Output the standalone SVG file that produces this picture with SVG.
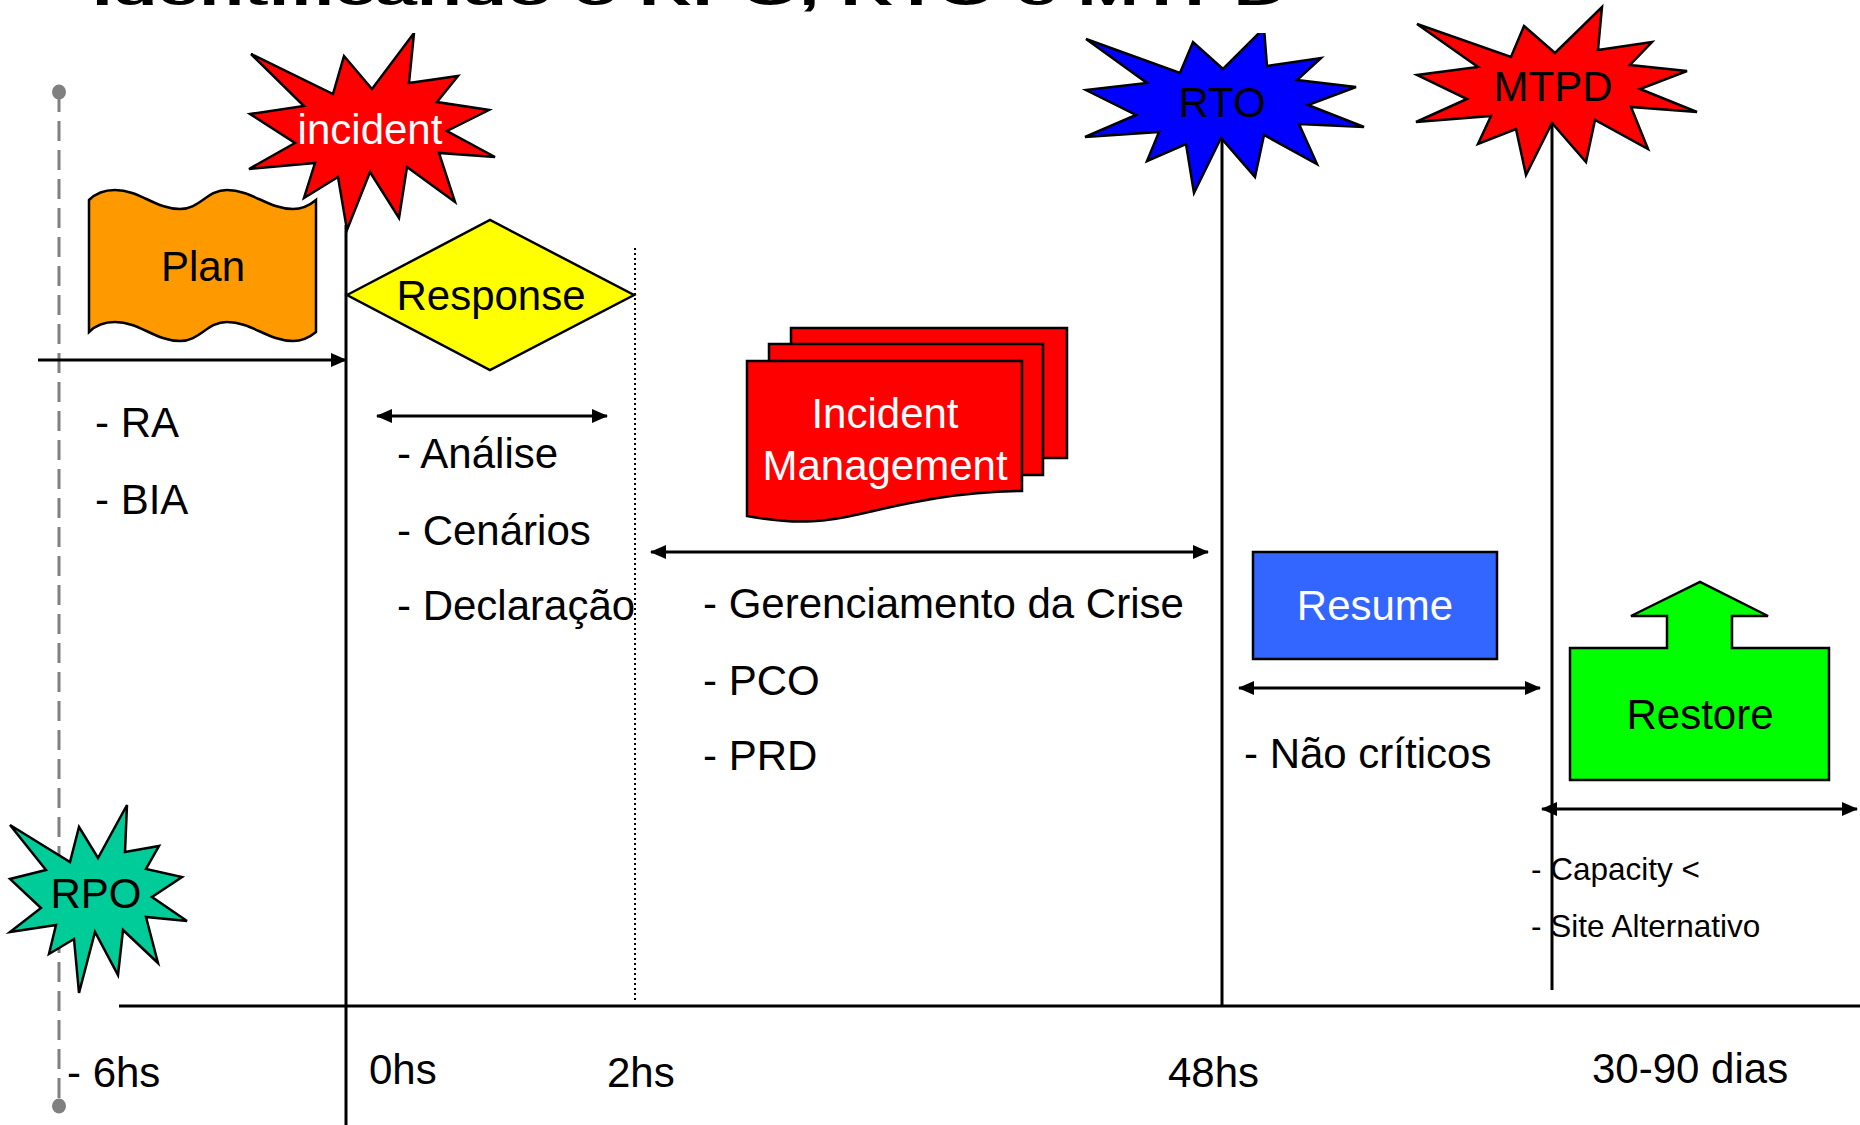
<svg xmlns="http://www.w3.org/2000/svg" width="1860" height="1125" viewBox="0 0 1860 1125">
<style>
.t{font-family:"Liberation Sans",Arial,sans-serif;font-size:42px;fill:#000}
.w{fill:#fff}
.c{text-anchor:middle}
.sm{font-size:31.5px}
.s{stroke:#000;stroke-width:2.5;stroke-linejoin:miter}
.ln{stroke:#000;stroke-width:3;fill:none}
.arr{stroke:#000;stroke-width:3;fill:none;marker-start:url(#ah);marker-end:url(#ah)}
</style>
<defs>
<marker id="ah" markerUnits="userSpaceOnUse" markerWidth="16" markerHeight="14" refX="15" refY="7" orient="auto-start-reverse" viewBox="0 0 16 14"><path d="M0,0 L16,7 L0,14 z" fill="#000"/></marker>
</defs>
<rect width="1860" height="1125" fill="#fff"/>

<g id="connectors">
<line x1="59" y1="92" x2="59" y2="1106" stroke="#808080" stroke-width="3" stroke-dasharray="20 9"/>
<ellipse cx="59" cy="92" rx="7" ry="7.5" fill="#808080"/>
<ellipse cx="59" cy="1106" rx="7" ry="7.5" fill="#808080"/>
<line class="ln" x1="346" y1="225" x2="346" y2="1125"/>
<line class="ln" x1="1222" y1="140" x2="1222" y2="1006"/>
<line class="ln" x1="1552" y1="123" x2="1552" y2="990"/>
<line class="ln" x1="119" y1="1006" x2="1860" y2="1006"/>
<line x1="635" y1="248" x2="635" y2="1000" stroke="#000" stroke-width="2" stroke-dasharray="2 3"/>
<line x1="38" y1="360" x2="346" y2="360" stroke="#000" stroke-width="3" marker-end="url(#ah)"/>
<line class="arr" x1="377" y1="416" x2="607" y2="416"/>
<line class="arr" x1="651" y1="552" x2="1208" y2="552"/>
<line class="arr" x1="1239" y1="688" x2="1540" y2="688"/>
<line class="arr" x1="1542" y1="809" x2="1857" y2="809"/>
</g>

<g id="incident">
<polygon class="s" fill="#ff0000" points="251,54 333,94 344,56 372,89 414,33 409,83 458,76 437,102 489,110 447,131 495,157 439,153 455,202 407,167 399,218 370,172 347,230 338,177 304,198 315,163 249,169 295,143 250,114 304,106"/>
<text class="t w c" x="370" y="144">incident</text>
</g>

<g id="plan">
<path class="s" fill="#ff9900" d="M89,200 C96,193 104,190 115,190 C140,190 155,209 180,209 C200,209 207,190 227,190 C252,190 268,209 293,209 C303,209 310,205 316,200 L316,332 C310,337 303,341 293,341 C268,341 252,322 227,322 C207,322 200,341 180,341 C155,341 140,322 115,322 C104,322 96,325 89,332 Z"/>
<text class="t c" x="203" y="281">Plan</text>
</g>

<g id="response">
<polygon class="s" fill="#ffff00" points="347,295 490,220 634,295 490,370"/>
<text class="t c" x="491" y="310">Response</text>
</g>

<g id="incident-management">
<rect class="s" fill="#ff0000" x="791" y="328" width="276" height="130"/>
<rect class="s" fill="#ff0000" x="769" y="344" width="274" height="131"/>
<path class="s" fill="#ff0000" d="M747,361 H1022 V491 C950,492 900,505 860,514 C830,521 800,526 747,516 Z"/>
<text class="t w c" x="885" y="428">Incident</text>
<text class="t w c" x="885" y="480">Management</text>
</g>

<g id="rto">
<polygon class="s" fill="#0000ff" points="1086,39 1180,73 1193,42 1223,69 1264,28 1267,66 1321,58 1297,80 1356,87 1308,105 1364,127 1299,124 1317,164 1264,135 1255,177 1221,138 1194,193 1186,144 1147,161 1159,132 1085,137 1136,115 1086,90 1147,83"/>
<text class="t c" x="1222" y="117">RTO</text>
</g>

<g id="rpo">
<polygon class="s" fill="#00cc99" points="10,825 70,862 79,827 98,858 127,805 125,852 159,846 146,869 182,877 152,897 187,921 146,917 158,963 123,930 118,975 95,932 79,993 74,939 49,954 56,925 10,932 41,908 10,879 46,870"/>
<text class="t c" x="96" y="908">RPO</text>
</g>

<rect x="200" y="0" width="1200" height="33" fill="#fff"/>
<text class="t" x="92" y="5" font-weight="bold" font-size="74" textLength="1195" lengthAdjust="spacingAndGlyphs">Identificando o RPO, RTO e MTPD</text>

<g id="mtpd">
<polygon class="s" fill="#ff0000" points="1417,24 1511,57 1524,26 1555,53 1602,7 1598,50 1652,42 1630,65 1687,71 1640,89 1697,112 1631,107 1648,149 1595,120 1586,162 1552,123 1526,175 1516,129 1478,144 1491,116 1416,122 1467,99 1417,75 1478,67"/>
<text class="t c" x="1553" y="101">MTPD</text>
</g>

<g id="resume">
<rect class="s" fill="#3366ff" x="1253" y="552" width="244" height="107"/>
<text class="t w c" x="1375" y="620">Resume</text>
</g>

<g id="restore">
<polygon class="s" fill="#00ff00" points="1570,648 1667,648 1667,616 1631,616 1700,582 1768,616 1732,616 1732,648 1829,648 1829,780 1570,780"/>
<text class="t c" x="1700" y="729">Restore</text>
</g>

<g id="labels">
<text class="t" x="95" y="437">- RA</text>
<text class="t" x="95" y="514">- BIA</text>
<text class="t" x="397" y="468">- Análise</text>
<text class="t" x="397" y="545">- Cenários</text>
<text class="t" x="397" y="620">- Declaração</text>
<text class="t" x="703" y="618">- Gerenciamento da Crise</text>
<text class="t" x="703" y="695">- PCO</text>
<text class="t" x="703" y="770">- PRD</text>
<text class="t" x="1244" y="768">- Não críticos</text>
<text class="t sm" x="1531" y="880">- Capacity &lt;</text>
<text class="t sm" x="1531" y="937">- Site Alternativo</text>
<text class="t" x="67" y="1087">- 6hs</text>
<text class="t" x="369" y="1084">0hs</text>
<text class="t" x="607" y="1087">2hs</text>
<text class="t" x="1168" y="1087">48hs</text>
<text class="t" x="1592" y="1083">30-90 dias</text>
</g>
</svg>
